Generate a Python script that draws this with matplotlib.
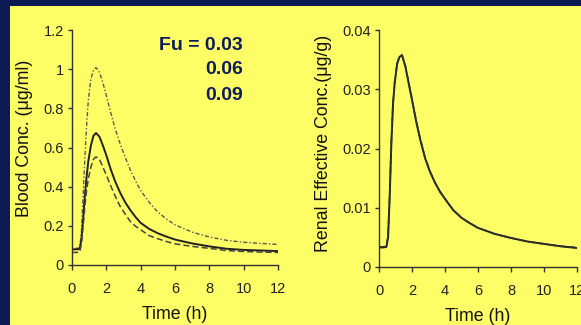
import matplotlib
matplotlib.use("Agg")
import matplotlib.pyplot as plt
from matplotlib.patches import Rectangle

plt.rcParams['font.family'] = ['Liberation Sans', 'DejaVu Sans']

# time points (h)
t = [0, 0.25, 0.45, 0.55, 0.65, 0.75, 0.85, 0.95, 1.1, 1.25, 1.4, 1.6, 1.8, 2.0, 2.25,
     2.5, 2.8, 3.1, 3.4, 3.7, 4.0, 4.5, 5.0, 5.5, 6.0, 7.0, 8.0, 9.0, 10.0, 11.0, 12.0]

# blood concentration (ug/ml) for the three Fu values
blood_dotted = [0.085, 0.085, 0.088, 0.17, 0.36, 0.55, 0.71, 0.84, 0.95, 0.995, 1.008,
                0.985, 0.93, 0.865, 0.78, 0.70, 0.62, 0.55, 0.485, 0.43, 0.38, 0.32,
                0.27, 0.235, 0.205, 0.168, 0.143, 0.126, 0.116, 0.11, 0.105]
blood_solid = [0.08, 0.08, 0.082, 0.13, 0.235, 0.355, 0.45, 0.53, 0.61, 0.66, 0.674,
               0.655, 0.61, 0.56, 0.49, 0.43, 0.37, 0.32, 0.28, 0.245, 0.215, 0.184,
               0.162, 0.145, 0.13, 0.11, 0.095, 0.083, 0.077, 0.074, 0.071]
blood_dashed = [0.064, 0.064, 0.066, 0.11, 0.20, 0.30, 0.38, 0.44, 0.50, 0.54, 0.552,
                0.54, 0.50, 0.46, 0.405, 0.355, 0.30, 0.26, 0.222, 0.198, 0.18, 0.15,
                0.134, 0.12, 0.108, 0.095, 0.085, 0.074, 0.069, 0.066, 0.064]

# renal effective concentration (ug/g)
renal_solid = [0.0033, 0.0033, 0.0034, 0.005, 0.012, 0.021, 0.0275, 0.031, 0.0343, 0.0355,
               0.0357, 0.0338, 0.031, 0.0282, 0.0246, 0.0215, 0.0183, 0.0160, 0.0142, 0.0127,
               0.0115, 0.0096, 0.0083, 0.0074, 0.0066, 0.0056, 0.0049, 0.0043, 0.0039, 0.0035, 0.0032]
renal_dashed = [0.0034, 0.0034, 0.0035, 0.0052, 0.0123, 0.0213, 0.0277, 0.0312, 0.0344, 0.0356,
                0.0358, 0.0339, 0.0311, 0.0283, 0.0247, 0.0216, 0.0184, 0.0161, 0.0142, 0.0127,
                0.0115, 0.0096, 0.0083, 0.0074, 0.0066, 0.0056, 0.0049, 0.0043, 0.0039, 0.0035, 0.0033]

fu_labels = ["Fu = 0.03", "0.06", "0.09"]

navy = '#0b1a50'
yellow = '#fdfd66'
axcol = '#333333'

fig = plt.figure(figsize=(5.81, 3.25), dpi=100, facecolor=navy)
bg = Rectangle((10 / 581, 0), 1, 1 - 6 / 325, transform=fig.transFigure,
               facecolor=yellow, edgecolor='none', zorder=-10)
fig.add_artist(bg)

ax1 = fig.add_axes([72 / 581, 60 / 325, 206 / 581, 235 / 325])
ax2 = fig.add_axes([379 / 581, 58 / 325, 198 / 581, 237 / 325])


def style(ax):
    ax.set_facecolor('none')
    for s in ['top', 'right']:
        ax.spines[s].set_visible(False)
    for s in ['left', 'bottom']:
        ax.spines[s].set_color(axcol)
        ax.spines[s].set_linewidth(1.0)
    ax.tick_params(axis='y', direction='out', length=3, width=1, colors=axcol,
                   labelsize=10.5, pad=3, labelcolor='#222222')
    ax.tick_params(axis='x', direction='out', length=3.5, width=1, colors=axcol,
                   labelsize=10.5, pad=9, labelcolor='#222222')
    ax.set_xlim(0, 12)
    ax.set_xticks(range(0, 13, 2))
    ax.set_xlabel("Time (h)", fontsize=12.8, color='#111111', labelpad=7)


style(ax1)
ax1.plot(t, blood_dotted, color='#5a5a5a', lw=1.0, ls=(0, (1, 1.5, 3, 1.5)))
ax1.plot(t, blood_solid, color='#222222', lw=1.4, ls='-')
ax1.plot(t, blood_dashed, color='#444444', lw=1.1, ls=(0, (4, 2)))
ax1.set_ylim(0, 1.2)
ax1.set_yticks([0, 0.2, 0.4, 0.6, 0.8, 1, 1.2])
ax1.set_yticklabels(["0", "0.2", "0.4", "0.6", "0.8", "1", "1.2"])
ax1.set_ylabel("Blood Conc. (\u03bcg/ml)", fontsize=12.8, color='#111111')
ax1.yaxis.set_label_coords(-0.19, 0.54)

style(ax2)
ax2.plot(t, renal_solid, color='#222222', lw=1.4, ls='-')
ax2.plot(t, renal_dashed, color='#333333', lw=1.2, ls=(0, (4, 2)))
ax2.set_ylim(0, 0.04)
ax2.set_yticks([0, 0.01, 0.02, 0.03, 0.04])
ax2.set_yticklabels(["0", "0.01", "0.02", "0.03", "0.04"])
ax2.set_ylabel("Renal Effective Conc.(\u03bcg/g)", fontsize=12.8, color='#111111')
ax2.yaxis.set_label_coords(-0.237, 0.52)

for i, lab in enumerate(fu_labels):
    fig.text(243 / 581, 1 - (45 + 25 * i) / 325, lab, ha='right', va='center',
             fontsize=14, fontweight='bold', color='#0d1a5c')

fig.savefig("out.png", dpi=100, facecolor=navy)
